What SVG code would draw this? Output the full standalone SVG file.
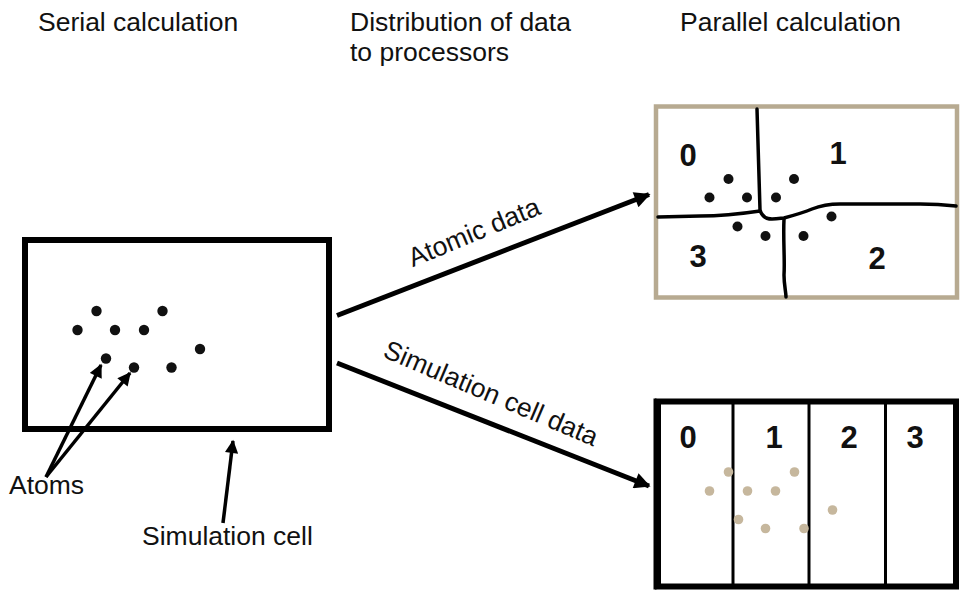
<svg xmlns="http://www.w3.org/2000/svg" width="961" height="591" viewBox="0 0 961 591">
<defs>
<style>
.t{font-family:"Liberation Sans",Arial,Helvetica,sans-serif;font-size:26.5px;fill:#111}
.d{font-family:"Liberation Sans",Arial,Helvetica,sans-serif;font-size:31px;font-weight:bold;fill:#111;text-anchor:middle}
.atom{fill:#111}
.batom{fill:#c6b79d}
.ln{fill:none;stroke:#000;stroke-linecap:butt}
.part{fill:none;stroke:#000;stroke-width:3.5;stroke-linecap:round;stroke-linejoin:round}
</style>
<marker id="big" viewBox="0 0 10 10" refX="9" refY="5" markerWidth="3.8" markerHeight="3.2" orient="auto" markerUnits="strokeWidth">
<path d="M0,0 L10,5 L0,10 Z" fill="#000"/>
</marker>
<marker id="small" viewBox="0 0 10 10" refX="9" refY="5" markerWidth="4.2" markerHeight="3.8" orient="auto" markerUnits="strokeWidth">
<path d="M0,0 L10,5 L0,10 Z" fill="#000"/>
</marker>
</defs>
<rect width="961" height="591" fill="#fff"/>

<g id="titles">
<text class="t" x="38" y="31">Serial calculation</text>
<text class="t" x="350" y="31">Distribution of data</text>
<text class="t" x="350" y="61">to processors</text>
<text class="t" x="680" y="31">Parallel calculation</text>
</g>

<g id="serial-cell">
<rect x="25" y="240" width="304" height="189" fill="none" stroke="#000" stroke-width="6"/>
<g class="atom">
<circle cx="96.5" cy="311" r="5.2"/>
<circle cx="162.5" cy="311" r="5.2"/>
<circle cx="77.5" cy="330" r="5.2"/>
<circle cx="115" cy="330" r="5.2"/>
<circle cx="144" cy="330" r="5.2"/>
<circle cx="200" cy="349" r="5.2"/>
<circle cx="106" cy="358.5" r="5.2"/>
<circle cx="134" cy="367.5" r="5.2"/>
<circle cx="171.5" cy="367.5" r="5.2"/>
</g>
</g>

<g id="labels">
<text class="t" x="9" y="494">Atoms</text>
<text class="t" x="142" y="545">Simulation cell</text>
<text class="t" transform="translate(477.5,240.5) rotate(-22.5)" text-anchor="middle">Atomic data</text>
<text class="t" transform="translate(487.5,401.5) rotate(23)" text-anchor="middle">Simulation cell data</text>
</g>

<g id="connectors">
<line class="ln" x1="46" y1="477" x2="101" y2="365" stroke-width="3.5" marker-end="url(#small)"/>
<line class="ln" x1="46" y1="477" x2="130" y2="373" stroke-width="3.5" marker-end="url(#small)"/>
<line class="ln" x1="223" y1="523" x2="233" y2="441" stroke-width="3.5" marker-end="url(#small)"/>
<line class="ln" x1="337" y1="315.5" x2="649" y2="194.5" stroke-width="5" marker-end="url(#big)"/>
<line class="ln" x1="337" y1="363" x2="649" y2="486" stroke-width="5" marker-end="url(#big)"/>
</g>

<g id="atomic-decomposition">
<rect x="656" y="106.5" width="301" height="191" fill="#fff" stroke="#b7aa91" stroke-width="4.5"/>
<path class="part" d="M757,109 C758,140 759,180 760,210 C762,217 766,219 772,219 C778,219 782,218 784,218 C795,215 805,212 812,209 C822,205 828,204 840,204 L920,204 C935,204 947,205 956,206"/>
<path class="part" d="M658,217 L700,216 C720,216 740,214 760,211"/>
<path class="part" d="M784,219 C783,240 785,260 784,275 C784,285 786,292 786,297"/>
<g class="atom">
<circle cx="728.5" cy="179" r="5"/>
<circle cx="794" cy="179" r="5"/>
<circle cx="709.5" cy="197.5" r="5"/>
<circle cx="747" cy="197.5" r="5"/>
<circle cx="776" cy="197.5" r="5"/>
<circle cx="737.5" cy="226.5" r="5"/>
<circle cx="765.5" cy="236" r="5"/>
<circle cx="803.5" cy="236" r="5"/>
<circle cx="831.5" cy="216.5" r="5"/>
</g>
<text class="d" x="688" y="166">0</text>
<text class="d" x="838" y="164">1</text>
<text class="d" x="698" y="267">3</text>
<text class="d" x="877" y="269">2</text>
</g>

<g id="cell-decomposition">
<rect x="658" y="401.5" width="298" height="185" fill="#fff" stroke="#000" stroke-width="6"/>
<line x1="655" y1="398.5" x2="655" y2="589.5" stroke="#000" stroke-width="3"/>
<line x1="733" y1="402" x2="733" y2="586" stroke="#000" stroke-width="3"/>
<line x1="809" y1="402" x2="809" y2="586" stroke="#000" stroke-width="3"/>
<line x1="885.5" y1="402" x2="885.5" y2="586" stroke="#000" stroke-width="3"/>
<g class="batom">
<circle cx="728.5" cy="472" r="4.8"/>
<circle cx="794.5" cy="472" r="4.8"/>
<circle cx="709.5" cy="491" r="4.8"/>
<circle cx="747.5" cy="491" r="4.8"/>
<circle cx="775.5" cy="491" r="4.8"/>
<circle cx="832.5" cy="510" r="4.8"/>
<circle cx="738.5" cy="519.5" r="4.8"/>
<circle cx="765.5" cy="528.5" r="4.8"/>
<circle cx="804" cy="528.5" r="4.8"/>
</g>
<text class="d" x="688" y="448">0</text>
<text class="d" x="774" y="448">1</text>
<text class="d" x="849" y="448">2</text>
<text class="d" x="915" y="448">3</text>
</g>
</svg>
